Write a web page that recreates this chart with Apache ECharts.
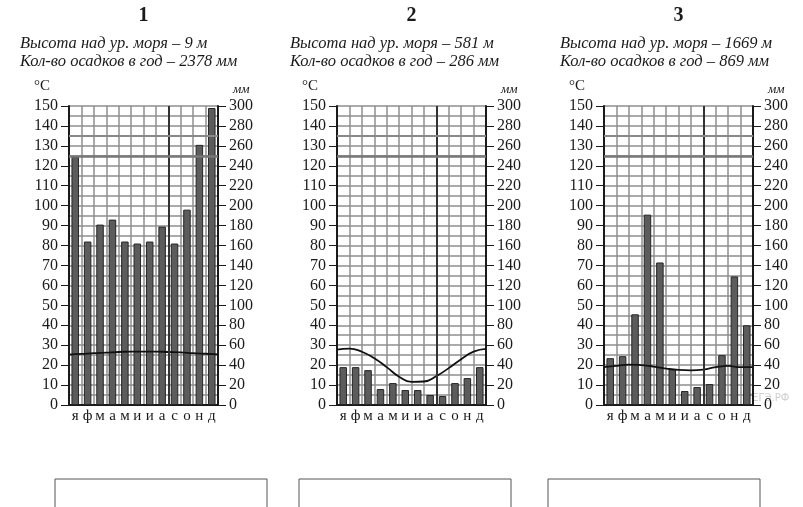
<!DOCTYPE html>
<html>
<head>
<meta charset="utf-8">
<script src="https://cdn.jsdelivr.net/npm/echarts@6/dist/echarts.min.js"></script>
<style>
html,body{margin:0;padding:0;background:#fff;}
#c{width:803px;height:507px;}
</style>
</head>
<body>
<div id="c"></div>
<script>
// ---- data ----
const months = ['я','ф','м','а','м','и','и','а','с','о','н','д'];
const boundaryIdx = ['0','1','2','3','4','5','6','7','8','9','10','11','12'];
const tempTicksLeft = [0,10,20,30,40,50,60,70,80,90,100,110,120,130,140,150];
const precipTicksRight = [0,20,40,60,80,100,120,140,160,180,200,220,240,260,280,300];

const titles = ['1','2','3'];
const heights = ['Высота над ур. моря – 9 м','Высота над ур. моря – 581 м','Высота над ур. моря – 1669 м'];
const totals = ['Кол-во осадков в год – 2378 мм','Кол-во осадков в год – 286 мм','Кол-во осадков в год – 869 мм'];

// precipitation (mm), monthly
const precip1 = [249,164,181,186,164,162,164,179,162,196,261,298];
const precip2 = [38,38,35,16,22,15,15,10,9,22,27,38];
const precip3 = [47,49,91,191,143,36,14,18,21,50,129,80];

// temperature (°C) at month boundaries (13 points)
const temp1 = [25.3,25.6,26.0,26.3,26.6,26.8,26.8,26.8,26.6,26.4,26.0,25.7,25.4];
const temp2 = [27.8,28.3,26.7,23.4,19.0,14.2,11.6,11.8,14.5,18.5,23.0,26.8,28.2];
const temp3 = [19.0,19.6,20.3,20.0,19.3,18.3,17.6,17.4,17.8,19.0,19.6,19.0,19.0];

const precipAll = [precip1, precip2, precip3];
const tempAll = [temp1, temp2, temp3];

// ---- layout ----
const gridLefts = [69, 337, 604];
const gridW = 149, gridTop = 106, gridH = 299;
const FONT = '"Liberation Serif", "DejaVu Serif", serif';
const INK = '#1a1a1a';
const GRIDC = '#8e8e8e';

const chart = echarts.init(document.getElementById('c'), null, {renderer:'canvas'});

const grid = [], xAxis = [], yAxis = [], series = [], graphic = [];

for (let i = 0; i < 3; i++) {
  grid.push({left: gridLefts[i], top: gridTop, width: gridW, height: gridH, outerBoundsMode: 'none', containLabel: false});
  xAxis.push({
    type: 'category', gridIndex: i, data: months.map((m, k) => String(k)), boundaryGap: true,
    axisLine: {show: true, lineStyle: {color: INK, width: 2}},
    axisTick: {show: false},
    axisLabel: {margin: 4, fontFamily: FONT, fontSize: 15, color: INK, interval: 0,
      formatter: (v, idx) => months[idx]},
    splitLine: {show: true, interval: 0, lineStyle: {color: GRIDC, width: 1.5}}
  });
  xAxis.push({
    type: 'category', gridIndex: i, data: boundaryIdx, boundaryGap: false, show: false
  });
  yAxis.push({
    type: 'value', gridIndex: i, min: 0, max: 150, interval: 10, position: 'left',
    name: '°C', nameLocation: 'end', nameGap: 12,
    nameTextStyle: {fontFamily: FONT, fontSize: 15, color: INK, align: 'right', padding: [0, 19, 0, 0]},
    axisLine: {show: true, onZero: false, lineStyle: {color: INK, width: 2}},
    axisTick: {show: true, inside: false, length: 8, lineStyle: {color: INK, width: 1}},
    axisLabel: {margin: 11, fontFamily: FONT, fontSize: 16, color: INK},
    splitLine: {show: true, lineStyle: {color: GRIDC, width: 1.5}},
    minorTick: {show: false, splitNumber: 2},
    minorSplitLine: {show: true, lineStyle: {color: GRIDC, width: 1.5}}
  });
  yAxis.push({
    type: 'value', gridIndex: i, min: 0, max: 300, interval: 20, position: 'right',
    name: 'мм', nameLocation: 'end', nameGap: 10,
    nameTextStyle: {fontFamily: FONT, fontSize: 13, fontStyle: 'italic', color: INK, align: 'left', padding: [0, 0, 0, 15]},
    axisLine: {show: true, onZero: false, lineStyle: {color: INK, width: 2}},
    axisTick: {show: true, inside: false, length: 8, lineStyle: {color: INK, width: 1}},
    axisLabel: {margin: 11, fontFamily: FONT, fontSize: 16, color: INK},
    splitLine: {show: false}
  });

  series.push({
    type: 'bar', xAxisIndex: i * 2, yAxisIndex: i * 2 + 1, data: precipAll[i],
    barWidth: 7.5, z: 3,
    itemStyle: {color: '#5c5c5c', borderColor: '#262626', borderWidth: 1},
    silent: true
  });
  series.push({
    type: 'line', xAxisIndex: i * 2 + 1, yAxisIndex: i * 2, data: tempAll[i],
    smooth: true, symbol: 'none', z: 4, silent: true,
    lineStyle: {color: '#111', width: 1.8},
    markLine: {
      silent: true, symbol: 'none', label: {show: false}, animation: false,
      data: [
        {xAxis: 8, lineStyle: {color: '#333', width: 2, type: 'solid'}},
        {yAxis: 125, lineStyle: {color: '#777', width: 2.5, type: 'solid'}},
        {yAxis: 135, lineStyle: {color: '#888', width: 2, type: 'solid'}}
      ]
    }
  });

  const cx = gridLefts[i] + gridW / 2 + 1;
  graphic.push({type: 'text', left: cx - 6, top: 6,
    style: {text: titles[i], font: 'bold 20px ' + FONT, fill: INK}});
  const tx = [20, 290, 560][i];
  graphic.push({type: 'text', left: tx, top: 35,
    style: {text: heights[i], font: 'italic 16.5px ' + FONT, fill: INK}});
  graphic.push({type: 'text', left: tx, top: 53,
    style: {text: totals[i], font: 'italic 16.5px ' + FONT, fill: INK}});
}

// answer boxes
[55, 299, 548].forEach(x => {
  graphic.push({type: 'rect', shape: {x: x, y: 479, width: 212, height: 40},
    style: {fill: '#fff', stroke: '#555', lineWidth: 1}});
});
// watermark
graphic.push({type: 'text', left: 746, top: 393, z: 0,
  style: {text: 'УЕГЭ.РФ', font: '10px "DejaVu Sans", sans-serif', fill: '#cfcfcf'}});

chart.setOption({
  animation: false,
  backgroundColor: '#fff',
  grid, xAxis, yAxis, series, graphic
});
</script>
</body>
</html>
